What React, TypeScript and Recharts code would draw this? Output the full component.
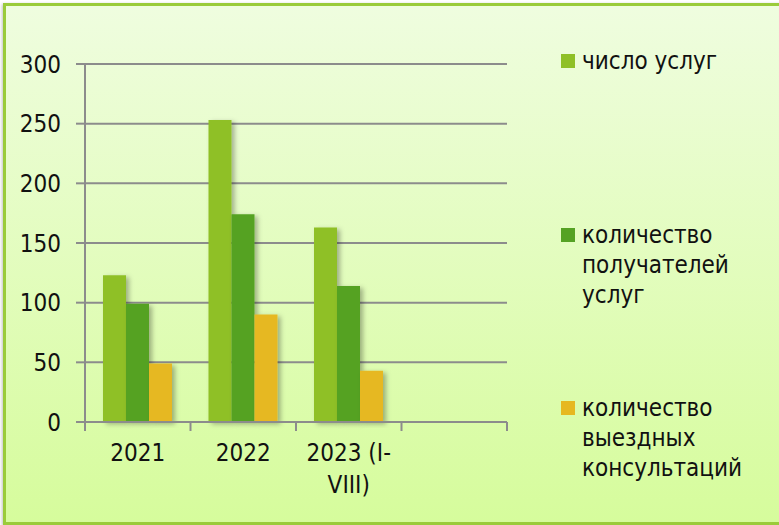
import React from 'react';
import { BarChart, Bar, XAxis, YAxis, CartesianGrid, Legend } from 'recharts';

const years = ['2021', '2022', '2023 (I-VIII)', ''];
const services = [123, 253, 163, null];
const recipients = [99, 174, 114, null];
const visits = [49, 90, 43, null];
const yTicks = [0, 50, 100, 150, 200, 250, 300];

const seriesKeys = ['services', 'recipients', 'visits'];
const seriesNames = {
    services: 'число услуг',
    recipients: 'количество получателей услуг',
    visits: 'количество выездных консультаций',
};

const data = years.map((year, i) => ({
    year,
    services: services[i],
    recipients: recipients[i],
    visits: visits[i],
}));

const FONT = '"DejaVu Sans Condensed", "DejaVu Sans", sans-serif';
const FS = 24;
const GRID = '#8c8c8c';

// label wraps after the hyphen; tick marks sit on the category edges, like Excel
const YearTick = (props) => {
    const { x, y, payload, index, visibleTicksCount, width } = props;
    const half = payload.offset || width / visibleTicksCount / 2;
    const s = payload.value || '';
    const i = s.indexOf('-');
    const lines = i < 0 ? [s] : [s.slice(0, i + 1), s.slice(i + 1)];
    const edges = index === visibleTicksCount - 1 ? [x - half, x + half] : [x - half];
    return (
        <g>
            {edges.map((ex, k) => (
                <line key={k} x1={ex} x2={ex} y1={y - 9} y2={y} stroke={GRID} strokeWidth={2} />
            ))}
            <text x={x} y={y} textAnchor="middle" fontFamily={FONT} fontSize={FS} fill="#111">
                {lines.map((l, k) => (
                    <tspan key={k} x={x} dy={k === 0 ? 30 : 32}>{l}</tspan>
                ))}
            </text>
        </g>
    );
};

const legendTops = [46, 220, 393];

const renderLegend = ({ payload }) => {
    const items = [...payload].sort((a, b) => seriesKeys.indexOf(a.dataKey) - seriesKeys.indexOf(b.dataKey));
    return (
        <div style={{ position: 'relative', width: 224, height: 500 }}>
            {items.map((entry, i) => (
                <div key={i} style={{ position: 'absolute', top: legendTops[i], left: 6, display: 'flex', alignItems: 'flex-start' }}>
                    <span style={{ width: 14, height: 14, background: entry.color, marginTop: 8, marginRight: 7, flex: 'none' }} />
                    <span style={{ fontFamily: FONT, fontSize: FS, lineHeight: '30px', color: '#111', width: 190 }}>{entry.value}</span>
                </div>
            ))}
        </div>
    );
};

export default function App() {
    return (
        <div style={{ position: 'absolute', left: 0, top: 0, width: 779, height: 525, overflow: 'hidden', background: '#fff' }}>
            <div style={{
                position: 'absolute', left: 3, top: 3, width: 800, height: 522, boxSizing: 'border-box',
                border: '3px solid #9acb3a', background: 'linear-gradient(to bottom, #effddf, #d6fc9c)',
                boxShadow: '-1px 1px 3px rgba(0,0,0,0.25)',
            }} />
            <div style={{ position: 'absolute', left: 0, top: 0 }}>
                <BarChart width={779} height={525} data={data} margin={{ top: 64, right: 48, bottom: 23, left: 0 }}
                    barCategoryGap={18} barGap={0}>
                    <defs>
                        <filter id="barShadow" x="-20%" y="-5%" width="160%" height="115%">
                            <feDropShadow dx="3" dy="2" stdDeviation="2.5" floodColor="#000" floodOpacity="0.3" />
                        </filter>
                    </defs>
                    <CartesianGrid vertical={false} stroke={GRID} strokeWidth={2} />
                    <XAxis dataKey="year" height={80} tickSize={9} tickMargin={0} interval={0}
                        tickLine={{ stroke: 'none' }}
                        axisLine={{ stroke: GRID, strokeWidth: 2 }} tick={<YearTick />} />
                    <YAxis domain={[0, 300]} ticks={yTicks} width={85} tickSize={9} tickMargin={15}
                        axisLine={{ stroke: GRID, strokeWidth: 2 }} tickLine={{ stroke: GRID, strokeWidth: 2 }}
                        tick={{ fontFamily: FONT, fontSize: FS, fill: '#111' }} />
                    <Legend layout="vertical" align="right" verticalAlign="top" content={renderLegend}
                        wrapperStyle={{ left: 555, top: 0, width: 224 }} />
                    <Bar dataKey="services" name={seriesNames.services} fill="#8fc027" filter="url(#barShadow)" isAnimationActive={false} />
                    <Bar dataKey="recipients" name={seriesNames.recipients} fill="#55a224" filter="url(#barShadow)" isAnimationActive={false} />
                    <Bar dataKey="visits" name={seriesNames.visits} fill="#e6b820" filter="url(#barShadow)" isAnimationActive={false} />
                </BarChart>
            </div>
        </div>
    );
}
